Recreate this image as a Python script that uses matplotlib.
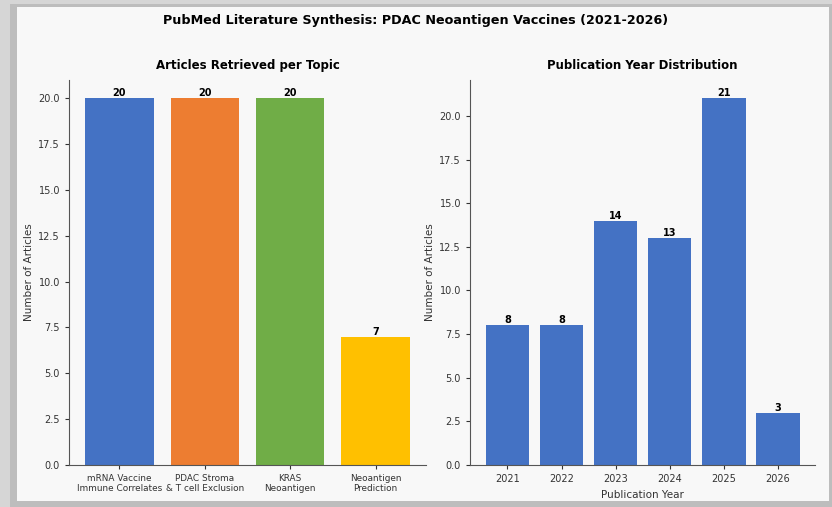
import matplotlib.pyplot as plt
from matplotlib.patches import Rectangle

# topic counts
topics = ['mRNA Vaccine\nImmune Correlates', 'PDAC Stroma\n& T cell Exclusion',
          'KRAS\nNeoantigen', 'Neoantigen\nPrediction']
topic_counts = [20, 20, 20, 7]
topic_colors = ['#4472C4', '#ED7D31', '#70AD47', '#FFC000']

# publications by year
years = ['2021', '2022', '2023', '2024', '2025', '2026']
year_counts = [8, 8, 14, 13, 21, 3]

plt.rcParams['font.family'] = ['DejaVu Sans']

fig = plt.figure(figsize=(8.32, 5.07), dpi=100, facecolor='#d6d6d6')
# card background with a soft edge
fig.patches.append(Rectangle((0.012, 0.0), 0.988, 0.992, transform=fig.transFigure,
                             facecolor='#bdbdbd', edgecolor='none', zorder=-10))
fig.patches.append(Rectangle((0.021, 0.012), 0.975, 0.975, transform=fig.transFigure,
                             facecolor='#f8f8f8', edgecolor='none', zorder=-9))

fig.suptitle('PubMed Literature Synthesis: PDAC Neoantigen Vaccines (2021-2026)',
             fontsize=9.2, fontweight='bold', y=0.972)

ax1 = fig.add_axes([0.083, 0.083, 0.429, 0.759])
ax2 = fig.add_axes([0.565, 0.083, 0.415, 0.759])

for ax in (ax1, ax2):
    ax.set_facecolor('#f8f8f8')
    ax.spines['top'].set_visible(False)
    ax.spines['right'].set_visible(False)
    ax.spines['left'].set_color('#555555')
    ax.spines['bottom'].set_color('#555555')
    ax.tick_params(labelsize=7, colors='#333333', length=3)
    ax.set_ylabel('Number of Articles', fontsize=7.5, color='#333333', labelpad=3)

bars1 = ax1.bar(range(len(topics)), topic_counts, color=topic_colors, width=0.8)
ax1.set_xticks(range(len(topics)))
ax1.set_xticklabels(topics, fontsize=6.4)
ax1.set_title('Articles Retrieved per Topic', fontsize=8.5, fontweight='bold', pad=8)
for b, v in zip(bars1, topic_counts):
    ax1.text(b.get_x() + b.get_width() / 2, v, str(v), ha='center', va='bottom',
             fontsize=7, fontweight='bold')

bars2 = ax2.bar(range(len(years)), year_counts, color='#4472C4', width=0.8)
ax2.set_xticks(range(len(years)))
ax2.set_xticklabels(years)
ax2.set_xlabel('Publication Year', fontsize=7.5, color='#333333')
ax2.set_title('Publication Year Distribution', fontsize=8.5, fontweight='bold', pad=8)
for b, v in zip(bars2, year_counts):
    ax2.text(b.get_x() + b.get_width() / 2, v, str(v), ha='center', va='bottom',
             fontsize=7, fontweight='bold')

plt.savefig('out.png', dpi=100, facecolor=fig.get_facecolor())
